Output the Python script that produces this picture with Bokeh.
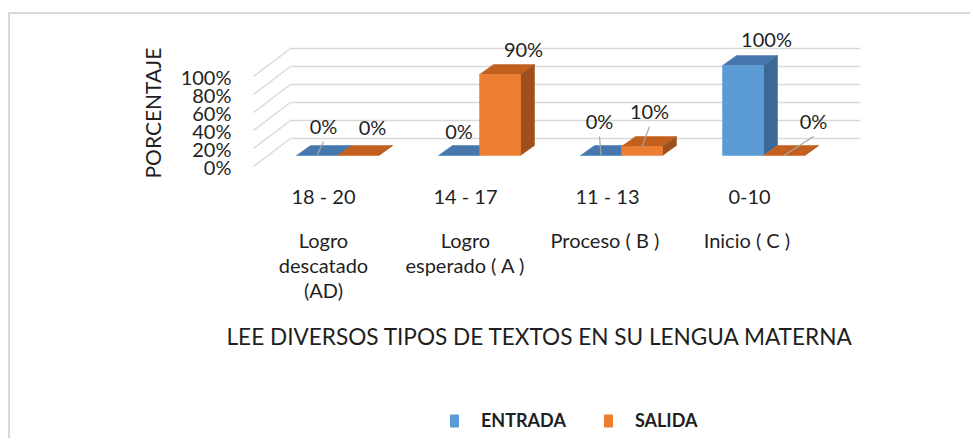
from bokeh.plotting import figure
from bokeh.layouts import column
from bokeh.models import (Range1d, FixedTicker, LinearAxis, Title, Legend, LegendItem)
from bokeh.core.properties import value
from bokeh.embed import file_html
from bokeh.resources import INLINE

# ---------------- data ----------------
ranges = ["18 - 20", "14 - 17", "11 - 13", "0-10"]
levels = ["Logro\ndescatado\n(AD)", "Logro\nesperado ( A )", "Proceso  ( B )", "Inicio  ( C )"]
entrada = [0, 0, 0, 100]
salida = [0, 90, 10, 0]
series_names = ["ENTRADA", "SALIDA"]
y_ticks = [0, 20, 40, 60, 80, 100]
y_tick_labels = ["0%", "20%", "40%", "60%", "80%", "100%"]
y_title = "PORCENTAJE"
x_title = "LEE DIVERSOS TIPOS DE TEXTOS EN SU LENGUA MATERNA"

# ---------------- style / geometry (pixel based) ----------------
PXC = 142.0      # pixels per category
PXY = 0.9        # pixels per percent
FONT = "Lato"
TXT = "#1f1f1f"
GRID = "#d9d9d9"
BAR_W = 41 / PXC
SHIFT = 14 / PXC          # group centre offset from category tick
DX, DY = 14 / PXC, 10 / PXY   # depth of the 3D boxes
BASE = 11 / PXY           # front base of bars
WALL_X0, WALL_X1, WALL_Y0 = -33 / PXC, 537 / PXC, 28 / PXY
FLOOR_X0 = -70 / PXC

colors = {
    0: dict(front="#5b9bd5", top="#4677ad", side="#3b6895"),
    1: dict(front="#ed7d31", top="#c2611f", side="#9e4f1b"),
}
# data-label offsets (px, right / down) from the front-top centre of each bar
label_off = {
    0: [(6.5, -30), (0, -25), (-1.5, -35), (23.5, -27)],
    1: [(14.5, -29), (23.5, -26), (7.5, -36), (29.5, -35)],
}
leader = {0: [True, False, True, False], 1: [False, False, True, True]}

X0, X1 = -83 / PXC, 547 / PXC
Y0, Y1 = -6 / PXY, 142 / PXY
W = 962


def bar_faces(vals, s):
    xl = [i + SHIFT - BAR_W + s * BAR_W for i in range(len(vals))]
    xr = [x + BAR_W for x in xl]
    yt = [BASE + v for v in vals]
    return xl, xr, yt


p = figure(width=W, height=390, x_range=Range1d(X0, X1), y_range=Range1d(Y0, Y1),
           output_backend="svg", toolbar_location=None,
           min_border_left=230, min_border_right=102, min_border_top=10, min_border_bottom=232)
p.styles = {"border-top": "2px solid #d9d9d9", "border-left": "2px solid #d9d9d9"}
p.grid.visible = False
p.outline_line_color = None
p.background_fill_color = "white"
p.border_fill_color = "white"

# back wall gridlines and floor-side diagonals
p.segment(x0=[WALL_X0] * len(y_ticks), y0=[WALL_Y0 + t for t in y_ticks],
          x1=[WALL_X1] * len(y_ticks), y1=[WALL_Y0 + t for t in y_ticks],
          line_color=GRID, line_width=1.3)
p.segment(x0=[WALL_X0] * len(y_ticks), y0=[WALL_Y0 + t for t in y_ticks],
          x1=[FLOOR_X0] * len(y_ticks), y1=list(y_ticks),
          line_color=GRID, line_width=1.3)

for s, vals in enumerate([entrada, salida]):
    c = colors[s]
    xl, xr, yt = bar_faces(vals, s)
    tops_x = [[a, b, b + DX, a + DX] for a, b in zip(xl, xr)]
    tops_y = [[t, t, t + DY, t + DY] for t in yt]
    side_x = [[b, b + DX, b + DX, b] for b in xr]
    side_y = [[BASE, BASE + DY, t + DY, t] for t in yt]
    p.patches(tops_x, tops_y, fill_color=c["top"], line_color=c["top"], line_width=0.5)
    p.patches(side_x, side_y, fill_color=c["side"], line_color=c["side"], line_width=0.5)
    p.quad(left=xl, right=xr, bottom=[BASE] * len(vals), top=yt,
           fill_color=c["front"], line_color=c["front"], line_width=0.5)

    fx = [(a + b) / 2 for a, b in zip(xl, xr)]
    lx = [f + o[0] / PXC for f, o in zip(fx, label_off[s])]
    ly = [t - o[1] / PXY for t, o in zip(yt, label_off[s])]
    p.text(x=lx, y=ly, text=[f"{v}%" for v in vals], text_font=value(FONT),
           text_font_size="20px", text_color=TXT, text_align="center", text_baseline="middle")
    sx0 = [x for x, f in zip(lx, leader[s]) if f]
    sy0 = [y - 16 / PXY for y, f in zip(ly, leader[s]) if f]
    sx1 = [x for x, f in zip(fx, leader[s]) if f]
    sy1 = [t for t, f in zip(yt, leader[s]) if f]
    p.segment(x0=sx0, y0=sy0, x1=sx1, y1=sy1, line_color="#a6a6a6", line_width=1.2)

# ---------------- axes ----------------
def style_axis(ax, size="20px"):
    ax.axis_line_color = None
    ax.major_tick_line_color = None
    ax.minor_tick_line_color = None
    ax.major_tick_out = 0
    ax.major_tick_in = 0
    ax.minor_tick_out = 0
    ax.major_label_text_font = FONT
    ax.major_label_text_font_size = size
    ax.major_label_text_color = TXT

yax = p.yaxis[0]
yax.ticker = FixedTicker(ticks=y_ticks)
yax.major_label_overrides = dict(zip(y_ticks, y_tick_labels))
yax.major_label_standoff = 9
style_axis(yax)

xax1 = p.xaxis[0]
xax1.ticker = FixedTicker(ticks=list(range(len(ranges))))
xax1.major_label_overrides = dict(enumerate(ranges))
xax1.major_label_standoff = 11
style_axis(xax1)

xax2 = LinearAxis(ticker=FixedTicker(ticks=list(range(len(levels)))),
                  major_label_overrides=dict(enumerate(levels)))
style_axis(xax2)
xax2.major_label_standoff = 17
xax2.major_label_text_line_height = 1.06
p.add_layout(xax2, "below")

t_y = Title(text=y_title, align="left", offset=-6, standoff=26,
            text_font=FONT, text_font_size="21px", text_font_style="normal", text_color=TXT)
p.add_layout(t_y, "left")
t_x = Title(text=x_title, align="left", offset=-14, standoff=31,
            text_font=FONT, text_font_size="22.6px", text_font_style="normal", text_color=TXT)
p.add_layout(t_x, "below")

# ---------------- legend strip ----------------
# its frame is aligned with the chart's frame by the column layout; the proxy
# bars below are the same series data, kept outside this strip's visible range
p2 = figure(width=W, height=36, x_range=Range1d(0, 1), y_range=Range1d(-3, -2),
            output_backend="svg", toolbar_location=None,
            x_axis_location=None, y_axis_location=None,
            min_border_left=0, min_border_right=0, min_border_top=0, min_border_bottom=0)
p2.styles = {"border-left": "2px solid #d9d9d9"}
p2.grid.visible = False
p2.outline_line_color = None
p2.background_fill_color = "white"
p2.border_fill_color = "white"
swatches = []
for s, vals in enumerate([entrada, salida]):
    xl, xr, yt = bar_faces(vals, s)
    swatches.append(p2.quad(left=xl, right=xr, bottom=[BASE] * len(vals), top=yt,
                            fill_color=colors[s]["front"], line_color=colors[s]["front"]))
legend = Legend(items=[LegendItem(label=n, renderers=[r]) for n, r in zip(series_names, swatches)],
                orientation="horizontal", location=(209, 7),
                glyph_width=10, glyph_height=15, label_standoff=22, spacing=37,
                label_text_font=FONT, label_text_font_size="18px", label_text_font_style="bold",
                label_text_color=TXT, border_line_color=None, background_fill_alpha=0,
                padding=0, margin=0)
p2.add_layout(legend)

layout = column(p, p2, spacing=0)
layout.styles = {"position": "relative", "left": "8px", "top": "12px"}

open("out.html", "w").write(file_html(layout, INLINE))
